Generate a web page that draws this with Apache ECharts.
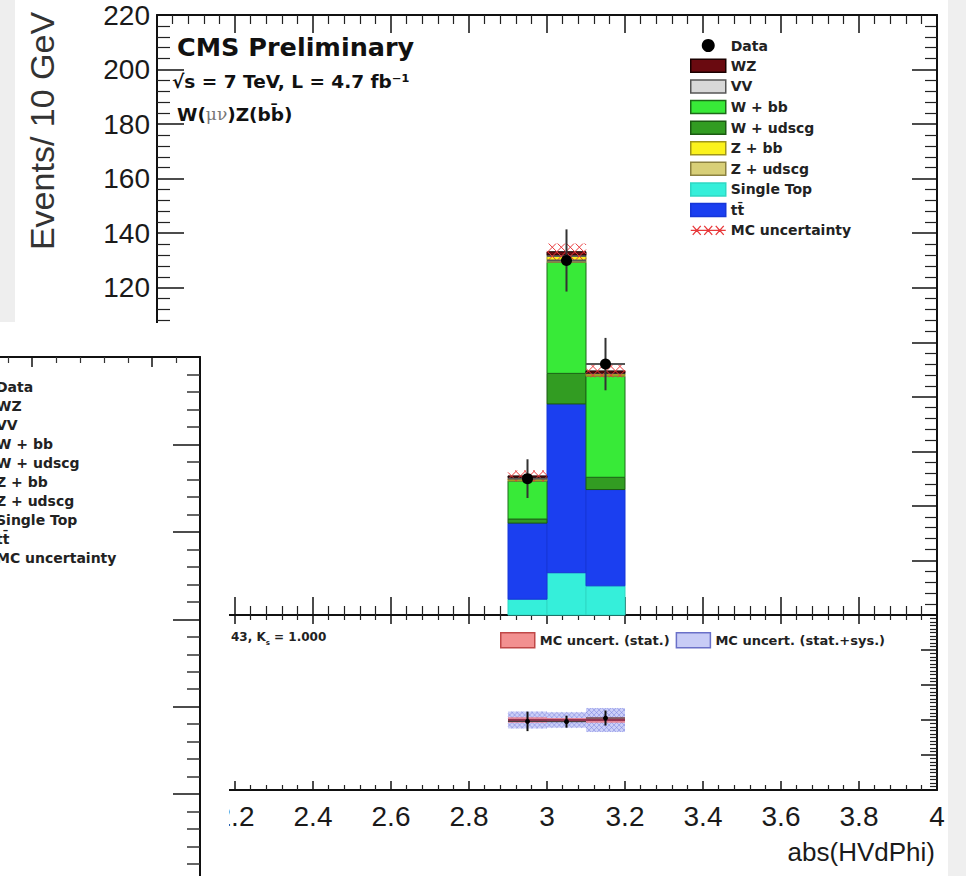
<!DOCTYPE html>
<html>
<head>
<meta charset="utf-8">
<script src="https://cdn.jsdelivr.net/npm/echarts@6/dist/echarts.min.js"></script>
<style>
  html, body { margin: 0; padding: 0; background: #ffffff; }
  #chart { width: 966px; height: 876px; }
</style>
</head>
<body>
<div id="chart"></div>
<script>
// ---- abs(HVdPhi) bins and yields ----
const binLow  = [2.9, 3.0, 3.1];
const binHigh = [3.0, 3.1, 3.2];

// stacked backgrounds, bottom to top
const singleTop = [5.8, 15.5, 10.7];
const ttbar     = [27.9, 61.9, 35.3];
const wUdscg    = [1.5, 11.2, 4.5];
const wBB       = [13.9, 40.7, 37.0];
const zUdscg    = [0.3, 0.6, 0.3];
const zBB       = [0.7, 1.6, 0.6];
const vv        = [0.3, 0.5, 0.3];
const wz        = [0.6, 1.2, 0.8];

// observed events and uncertainties
const dataCounts = [50, 130, 92];
const dataErr    = [7.1, 11.4, 9.6];
const mcErr      = [2.0, 3.0, 2.4];

// ratio panel uncertainty bands (relative)
const ratioStatErr = [0.04, 0.03, 0.04];
const ratioSysErr  = [0.12, 0.11, 0.17];

// axis ranges and tick steps
const xRange = [2, 4];      const xStep = 0.2;
const yRange = [0, 220];    const yStep = 20;
const rRange = [0, 2.5];    const rStep = 0.5;

// legend entries
const legendNames = ['Data', 'WZ', 'VV', 'W + bb', 'W + udscg', 'Z + bb', 'Z + udscg', 'Single Top', 'tt\u0304', 'MC uncertainty'];
const ratioLegendNames = ['MC uncert. (stat.)', 'MC uncert. (stat.+sys.)'];

const HELV = 'Liberation Sans, Arial, sans-serif';
const BOLD = 'DejaVu Sans, Verdana, sans-serif';

const processes = [
  { name: 'Single Top', values: singleTop, fill: '#35efda', stroke: '#2fd8c4' },
  { name: 'tt\u0304',   values: ttbar,     fill: '#1b3ff0', stroke: '#1636d8' },
  { name: 'W + udscg',  values: wUdscg,    fill: '#329c22', stroke: '#1b5a12' },
  { name: 'W + bb',     values: wBB,       fill: '#38ea38', stroke: '#1d6a18' },
  { name: 'Z + udscg',  values: zUdscg,    fill: '#d8cf78', stroke: '#8c8240' },
  { name: 'Z + bb',     values: zBB,       fill: '#fbf21c', stroke: '#a0961a' },
  { name: 'VV',         values: vv,        fill: '#d8d8d8', stroke: '#555555' },
  { name: 'WZ',         values: wz,        fill: '#6a0a10', stroke: '#1a0000' }
];

// cumulative stack
const base = binLow.map(() => 0);
processes.forEach(p => {
  p.rows = binLow.map((lo, i) => {
    const b = base[i];
    const t = b + p.values[i];
    base[i] = t;
    return [lo, binHigh[i], b, t];
  });
});
const mcTotal = base.slice();

function boxRenderer(fill, stroke) {
  return function (params, api) {
    const a = api.coord([api.value(0), api.value(3)]);
    const b = api.coord([api.value(1), api.value(2)]);
    return {
      type: 'rect',
      shape: { x: a[0], y: a[1], width: b[0] - a[0], height: b[1] - a[1] },
      style: { fill: fill, stroke: stroke, lineWidth: 1 }
    };
  };
}

// crossed diagonal hatching inside a pixel box
function hatch(x0, y0, w, h, step, color, width) {
  const out = [];
  for (let k = -h; k < w; k += step) {
    let xa = x0 + k, ya = y0, xb = x0 + k + h, yb = y0 + h;
    if (xa < x0) { ya += x0 - xa; xa = x0; }
    if (xb > x0 + w) { yb -= xb - (x0 + w); xb = x0 + w; }
    if (xb > xa) out.push([xa, ya, xb, yb]);
    let xc = x0 + k, yc = y0 + h, xd = x0 + k + h, yd = y0;
    if (xc < x0) { yc -= x0 - xc; xc = x0; }
    if (xd > x0 + w) { yd += xd - (x0 + w); xd = x0 + w; }
    if (xd > xc) out.push([xc, yc, xd, yd]);
  }
  return out.map(s => ({
    type: 'line',
    shape: { x1: s[0], y1: s[1], x2: s[2], y2: s[3] },
    style: { stroke: color, lineWidth: width }
  }));
}

const stackSeries = processes.map(p => ({
  name: p.name,
  type: 'custom',
  xAxisIndex: 0, yAxisIndex: 0,
  itemStyle: { color: p.fill },
  encode: { x: [0, 1], y: [2, 3] },
  renderItem: boxRenderer(p.fill, p.stroke),
  data: p.rows,
  z: 2
}));

const mcBand = {
  name: 'MC uncertainty',
  type: 'custom',
  xAxisIndex: 0, yAxisIndex: 0,
  itemStyle: { color: '#e23a3a' },
  encode: { x: [0, 1], y: [2, 3] },
  data: binLow.map((lo, i) => [lo, binHigh[i], mcTotal[i] - mcErr[i], mcTotal[i] + mcErr[i]]),
  renderItem: function (params, api) {
    const a = api.coord([api.value(0), api.value(3)]);
    const b = api.coord([api.value(1), api.value(2)]);
    return { type: 'group', children: hatch(a[0], a[1], b[0] - a[0], b[1] - a[1], 9, '#e8383a', 1) };
  },
  z: 3
};

const dataSeries = {
  name: 'Data',
  type: 'custom',
  xAxisIndex: 0, yAxisIndex: 0,
  itemStyle: { color: '#000000' },
  encode: { x: 0, y: 1 },
  data: binLow.map((lo, i) => [(lo + binHigh[i]) / 2, dataCounts[i], dataErr[i], lo, binHigh[i]]),
  renderItem: function (params, api) {
    const c = api.coord([api.value(0), api.value(1)]);
    const up = api.coord([api.value(0), api.value(1) + api.value(2)]);
    const dn = api.coord([api.value(0), api.value(1) - api.value(2)]);
    const l = api.coord([api.value(3), api.value(1)]);
    const r = api.coord([api.value(4), api.value(1)]);
    return {
      type: 'group',
      children: [
        { type: 'line', shape: { x1: l[0], y1: l[1], x2: r[0], y2: r[1] }, style: { stroke: '#555', lineWidth: 2 } },
        { type: 'line', shape: { x1: up[0], y1: up[1], x2: dn[0], y2: dn[1] }, style: { stroke: '#333', lineWidth: 2 } },
        { type: 'circle', shape: { cx: c[0], cy: c[1], r: 5.5 }, style: { fill: '#000' } }
      ]
    };
  },
  z: 4
};

// ratio panel
const sysBand = {
  name: ratioLegendNames[1],
  type: 'custom',
  xAxisIndex: 2, yAxisIndex: 2,
  itemStyle: { color: '#c8ccf6' },
  encode: { x: [0, 1], y: [2, 3] },
  data: binLow.map((lo, i) => [lo, binHigh[i], 1 - ratioSysErr[i], 1 + ratioSysErr[i]]),
  renderItem: function (params, api) {
    const a = api.coord([api.value(0), api.value(3)]);
    const b = api.coord([api.value(1), api.value(2)]);
    const w = b[0] - a[0], h = b[1] - a[1];
    return {
      type: 'group',
      children: [{ type: 'rect', shape: { x: a[0], y: a[1], width: w, height: h }, style: { fill: 'rgba(160,168,240,0.55)' } }]
        .concat(hatch(a[0], a[1], w, h, 5, 'rgba(110,118,220,0.6)', 0.8))
    };
  },
  z: 2
};

const statBand = {
  name: ratioLegendNames[0],
  type: 'custom',
  xAxisIndex: 2, yAxisIndex: 2,
  itemStyle: { color: '#f29090' },
  encode: { x: [0, 1], y: [2, 3] },
  data: binLow.map((lo, i) => [lo, binHigh[i], 1 - ratioStatErr[i], 1 + ratioStatErr[i]]),
  renderItem: function (params, api) {
    const a = api.coord([api.value(0), api.value(3)]);
    const b = api.coord([api.value(1), api.value(2)]);
    const m = api.coord([api.value(0), 1]);
    return {
      type: 'group',
      children: [
        { type: 'rect', shape: { x: a[0], y: a[1], width: b[0] - a[0], height: b[1] - a[1] }, style: { fill: 'rgba(236,120,130,0.8)' } },
        { type: 'line', shape: { x1: a[0], y1: m[1], x2: b[0], y2: m[1] }, style: { stroke: '#7a1a3a', lineWidth: 1.5 } }
      ]
    };
  },
  z: 3
};

const ratioPoints = {
  name: 'Data / MC',
  type: 'custom',
  xAxisIndex: 2, yAxisIndex: 2,
  itemStyle: { color: '#000' },
  encode: { x: 0, y: 1 },
  data: binLow.map((lo, i) => [(lo + binHigh[i]) / 2, dataCounts[i] / mcTotal[i], dataErr[i] / mcTotal[i], lo, binHigh[i]]),
  renderItem: function (params, api) {
    const c = api.coord([api.value(0), api.value(1)]);
    const up = api.coord([api.value(0), api.value(1) + api.value(2)]);
    const dn = api.coord([api.value(0), api.value(1) - api.value(2)]);
    const l = api.coord([api.value(3), api.value(1)]);
    const r = api.coord([api.value(4), api.value(1)]);
    return {
      type: 'group',
      children: [
        { type: 'line', shape: { x1: l[0], y1: l[1], x2: r[0], y2: r[1] }, style: { stroke: '#333', lineWidth: 1 } },
        { type: 'line', shape: { x1: up[0], y1: up[1], x2: dn[0], y2: dn[1] }, style: { stroke: '#111', lineWidth: 2 } },
        { type: 'circle', shape: { cx: c[0], cy: c[1], r: 2.5 }, style: { fill: '#000' } }
      ]
    };
  },
  z: 4
};

// ---- axes ----
const AX = { color: '#111', width: 2 };
function xAx(grid, pos, major, minor, labels) {
  return {
    type: 'value', gridIndex: grid, position: pos,
    min: xRange[0], max: xRange[1], interval: xStep,
    axisLine: { show: true, onZero: false, lineStyle: AX },
    axisTick: { show: true, inside: true, length: major, lineStyle: { color: '#111', width: 1.5 } },
    minorTick: { show: true, splitNumber: 5, length: minor, lineStyle: { color: '#222', width: 1.2 } },
    axisLabel: labels ? { show: true, fontFamily: HELV, fontSize: 28, color: '#1a1a1a', margin: 12 } : { show: false },
    splitLine: { show: false }
  };
}
function yAx(grid, pos, range, step, major, minor, minorSplit, labels) {
  return {
    type: 'value', gridIndex: grid, position: pos,
    min: range[0], max: range[1], interval: step,
    axisLine: { show: true, onZero: false, lineStyle: AX },
    axisTick: { show: true, inside: true, length: major, lineStyle: { color: '#111', width: 1.5 } },
    minorTick: { show: true, splitNumber: minorSplit, length: minor, lineStyle: { color: '#222', width: 1.2 } },
    axisLabel: labels ? { show: true, fontFamily: HELV, fontSize: 28, color: '#1a1a1a', margin: 7 } : { show: false },
    splitLine: { show: false }
  };
}

// frame of the window lying over the lower-left corner
const coverX = { type: 'value', gridIndex: 2, position: 'top', min: 0, max: 5.4, interval: 1, z: 60,
  axisLine: { show: true, onZero: false, lineStyle: AX },
  axisTick: { show: true, inside: true, length: 10, lineStyle: { color: '#111', width: 1.5 } },
  minorTick: { show: true, splitNumber: 5, length: 6, lineStyle: { color: '#333', width: 1.2 } },
  axisLabel: { show: false }, splitLine: { show: false } };
const coverY = { type: 'value', gridIndex: 2, position: 'right', min: 0, max: 7, interval: 1, z: 60,
  axisLine: { show: true, onZero: false, lineStyle: AX },
  axisTick: { show: true, inside: true, length: 27, lineStyle: { color: '#111', width: 1.5 } },
  minorTick: { show: true, splitNumber: 5, length: 13, lineStyle: { color: '#333', width: 1.5 } },
  axisLabel: { show: false }, splitLine: { show: false } };

function legendItem(name) {
  if (name === 'Data') return { name: name, icon: 'circle', itemStyle: { color: '#000' } };
  if (name === 'MC uncertainty') return {
    name: name,
    icon: 'path://M0,6.5L35,6.5M2,2L10,11M10,2L2,11M13.5,2L21.5,11M21.5,2L13.5,11M25,2L33,11M33,2L25,11',
    itemStyle: { color: 'rgba(0,0,0,0)', borderColor: '#e8383a', borderWidth: 1.3 }
  };
  const p = processes.find(q => q.name === name);
  return { name: name, icon: 'rect', itemStyle: { color: p.fill, borderColor: p.stroke === p.fill ? '#555' : p.stroke, borderWidth: 1.5 } };
}

// legend of the covering window, only its right part shows
const coverLegend = legendNames.map((n, i) => ({
  type: 'text', x: -4, y: 387 + i * 19, z: 60,
  style: { text: n, fontFamily: BOLD, fontWeight: 'bold', fontSize: 14, fill: '#222', verticalAlign: 'middle' }
}));

const option = {
  animation: false,
  backgroundColor: '#ffffff',
  grid: [
    { left: 157, top: 15, width: 780, height: 600, outerBoundsMode: 'none', containLabel: false },
    { left: 157, top: 615, width: 780, height: 175, outerBoundsMode: 'none', containLabel: false },
    { left: -448, top: 357, width: 648, height: 612, outerBoundsMode: 'none', containLabel: false }
  ],
  xAxis: [
    xAx(0, 'bottom', 18, 9, false),
    xAx(0, 'top', 18, 9, false),
    xAx(1, 'bottom', 9, 5, true),
    xAx(1, 'top', 9, 5, false),
    coverX
  ],
  yAxis: [
    yAx(0, 'left', yRange, yStep, 27, 13, 5, true),
    yAx(0, 'right', yRange, yStep, 25, 12, 5, false),
    yAx(1, 'left', rRange, rStep, 16, 7, 10, false),
    yAx(1, 'right', rRange, rStep, 16, 7, 10, false),
    coverY
  ],
  legend: [
    {
      orient: 'vertical', left: 685, top: 33.5,
      itemWidth: 35, itemHeight: 13, itemGap: 6.1,
      selectedMode: false,
      textStyle: { fontFamily: BOLD, fontWeight: 'bold', fontSize: 14, color: '#222', lineHeight: 13 },
      data: legendNames.map(legendItem)
    },
    {
      orient: 'horizontal', left: 495, top: 627,
      itemWidth: 34, itemHeight: 15, itemGap: 6,
      selectedMode: false,
      textStyle: { fontFamily: BOLD, fontWeight: 'bold', fontSize: 13, color: '#222' },
      data: [
        { name: ratioLegendNames[0], icon: 'rect', itemStyle: { color: '#f29090', borderColor: '#c04848', borderWidth: 1.5 } },
        { name: ratioLegendNames[1], icon: 'rect', itemStyle: { color: '#c8ccf6', borderColor: '#6a70c8', borderWidth: 1.5 } }
      ]
    }
  ],
  series: stackSeries.concat([mcBand, dataSeries, sysBand, statBand, ratioPoints]),
  graphic: [
    { type: 'rect', shape: { x: 0, y: 0, width: 15, height: 322 }, style: { fill: '#eeeeee' }, z: 1 },
    { type: 'rect', shape: { x: 948, y: 0, width: 18, height: 876 }, style: { fill: '#efefef' }, z: 1 },
    { type: 'text', x: 42, y: 131, rotation: Math.PI / 2, z: 5,
      style: { text: 'Events/ 10 GeV', fontFamily: HELV, fontSize: 34, fill: '#333', align: 'center', verticalAlign: 'middle' } },
    { type: 'text', x: 177, y: 47, z: 5,
      style: { text: 'CMS Preliminary', fontFamily: BOLD, fontWeight: 'bold', fontSize: 25.5, fill: '#111', verticalAlign: 'middle' } },
    { type: 'text', x: 172, y: 81, z: 5,
      style: { text: '\u221As = 7 TeV, L = 4.7 fb\u207B\u00B9', fontFamily: BOLD, fontWeight: 'bold', fontSize: 18.5, fill: '#111', verticalAlign: 'middle' } },
    { type: 'text', x: 177, y: 114, z: 5,
      style: {
        text: '{b|W(}{g|\u03BC\u03BD}{b|)Z(b}{b|b\u0304)}',
        verticalAlign: 'middle',
        rich: {
          b: { fontFamily: BOLD, fontWeight: 'bold', fontSize: 18.5, fill: '#111' },
          g: { fontFamily: 'DejaVu Serif, serif', fontWeight: 'normal', fontSize: 17, fill: '#777' }
        }
      } },
    { type: 'text', x: 231, y: 637, z: 5,
      style: {
        text: '{t|43, K}{s|s}{t| = 1.000}',
        verticalAlign: 'middle',
        rich: {
          t: { fontFamily: BOLD, fontWeight: 'bold', fontSize: 12, fill: '#222', lineHeight: 18 },
          s: { fontFamily: BOLD, fontWeight: 'bold', fontSize: 7, fill: '#222', verticalAlign: 'bottom', lineHeight: 18 }
        }
      } },
    { type: 'text', x: 935, y: 852, z: 5,
      style: { text: 'abs(HVdPhi)', fontFamily: HELV, fontSize: 26, fill: '#1a1a1a', align: 'right', verticalAlign: 'middle' } },
    // covering window
    { type: 'rect', shape: { x: 0, y: 323, width: 229, height: 553 }, style: { fill: '#ffffff' }, z: 50 }
  ].concat(coverLegend)
};

const chart = echarts.init(document.getElementById('chart'), null, { renderer: 'svg' });
chart.setOption(option);
</script>
</body>
</html>
